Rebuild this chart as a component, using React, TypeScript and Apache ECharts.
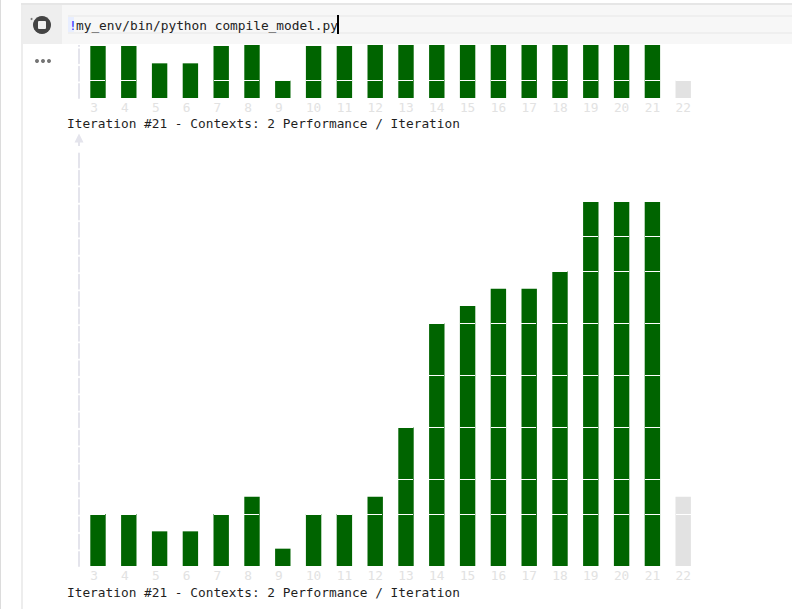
import React, { useEffect, useRef } from "react";
import * as echarts from "echarts";

const categories = ["3","4","5","6","7","8","9","10","11","12","13","14","15","16","17","18","19","20","21","22"];
const upperValues = [3,3,2,2,3,4,1,3,3,4,4,4,4,4,4,4,4,4,4,1];
const lowerValues = [3,3,2,2,3,4,1,3,3,4,8,14,15,16,16,17,21,21,21,4];
const upperDividerLevels = [1];
const upperNoDivider = ["5","6"];
const lowerDividerLevels = [3,5,8,11,14,17,19];
const caption = "Iteration #21 - Contexts: 2 Performance / Iteration";
const commandBang = "!";
const commandText = "my_env/bin/python compile_model.py";

const GREEN = "#006400";
const GRAY = "#e2e2e2";
const LABEL = "#e2e2e2";
const MONO = "'DejaVu Sans Mono', monospace";
const LAST = categories.length - 1;

const barData = (vals: number[]) =>
  vals.map((v, i) => ({ value: v, itemStyle: { color: i === LAST ? GRAY : GREEN } }));

const dividerPairs = (vals: number[], levels: number[], skip: string[]) => {
  const out: number[][] = [];
  vals.forEach((v, i) => {
    if (skip.includes(categories[i])) return;
    levels.forEach((l) => {
      if (l <= v) out.push([i, l]);
    });
  });
  return out;
};

const renderDivider = (_: any, api: any) => {
  const p = api.coord([api.value(0), api.value(1)]);
  const w = api.size([1, 0])[0] * 0.5;
  return {
    type: "rect",
    shape: { x: Math.round(p[0] - w / 2), y: Math.floor(p[1]), width: Math.round(w), height: 1 },
    style: { fill: "#ffffff" },
  };
};

const xAxisFor = (gridIndex: number) => ({
  type: "category",
  gridIndex,
  data: categories,
  axisLine: { show: false },
  axisTick: { show: false },
  axisLabel: {
    interval: 0,
    margin: 3,
    color: LABEL,
    fontFamily: MONO,
    fontSize: 12.8,
    formatter: (v: string) => (v.length < 2 ? `{s|${v}}` : v),
    rich: { s: { padding: [0, 7.7, 0, 0], color: LABEL, fontFamily: MONO, fontSize: 12.8 } },
  },
});

const yAxisFor = (gridIndex: number, max: number) => ({
  type: "value",
  gridIndex,
  min: 0,
  max,
  offset: 3.6,
  axisLabel: { show: false },
  axisTick: { show: false },
  splitLine: { show: false },
  axisLine: {
    show: true,
    symbol: ["none", "triangle"],
    symbolSize: [9, 9],
    lineStyle: { color: "#e4e4ec", width: 2, type: [14, 3.33] },
  },
});

const Z = 100;
const rect = (x: number, y: number, width: number, height: number, fill: string, z = Z) => ({
  type: "rect",
  shape: { x, y, width, height },
  style: { fill },
  z,
  silent: true,
});
const label = (text: string, x: number, y: number, fill: string, fontSize: number) => ({
  type: "text",
  x,
  y,
  z: Z + 2,
  silent: true,
  style: { text, fill, fontFamily: MONO, fontSize, textVerticalAlign: "middle", textAlign: "left" },
});

export default function App() {
  const ref = useRef<HTMLDivElement>(null);
  useEffect(() => {
    document.body.style.margin = "0";
    const chart = echarts.init(ref.current!, undefined, { renderer: "svg" });
    chart.setOption({
      animation: false,
      backgroundColor: "#ffffff",
      grid: [
        { left: 82.6, width: 616, top: 0, height: 98 },
        { left: 82.6, width: 616, top: 138, height: 428 },
      ],
      xAxis: [xAxisFor(0), xAxisFor(1)],
      yAxis: [yAxisFor(0, 5.654), yAxisFor(1, 24.7)],
      series: [
        { type: "bar", xAxisIndex: 0, yAxisIndex: 0, barWidth: 15.4, data: barData(upperValues) },
        { type: "bar", xAxisIndex: 1, yAxisIndex: 1, barWidth: 15.4, data: barData(lowerValues) },
        {
          type: "custom", xAxisIndex: 0, yAxisIndex: 0, z: 5, renderItem: renderDivider,
          data: dividerPairs(upperValues, upperDividerLevels, upperNoDivider),
        },
        {
          type: "custom", xAxisIndex: 1, yAxisIndex: 1, z: 5, renderItem: renderDivider,
          data: dividerPairs(lowerValues, lowerDividerLevels, []),
        },
      ],
      graphic: [
        rect(0, 0, 792, 4, "#ffffff"),
        rect(0, 0, 1, 609, "#dcdcdc"),
        rect(21, 4, 2, 605, "#ededed"),
        rect(21, 3, 771, 2, "#e6e6e6"),
        rect(23, 5, 39, 39, "#eeeeee"),
        rect(62, 5, 730, 39, "#f7f7f7"),
        rect(62, 44, 730, 1, "#ffffff"),
        rect(76, 146, 6, 6, "#ffffff"),
        rect(68, 15, 724, 2, "#efefef", Z + 1),
        rect(68, 32, 724, 2, "#efefef", Z + 1),
        rect(68, 17, 6, 15, "#e8eeff", Z + 1),
        {
          type: "circle", z: Z + 1, silent: true,
          shape: { cx: 42, cy: 25, r: 9 }, style: { fill: "#444444" },
        },
        {
          type: "rect", z: Z + 2, silent: true,
          shape: { x: 38, y: 21, width: 8, height: 8, r: 1 }, style: { fill: "#f1f1f1" },
        },
        {
          type: "circle", z: Z + 1, silent: true,
          shape: { cx: 31.5, cy: 19, r: 1 }, style: { fill: "#777777" },
        },
        ...[37, 43, 49].map((cx) => ({
          type: "circle", z: Z, silent: true,
          shape: { cx, cy: 61, r: 2 }, style: { fill: "#757575" },
        })),
        label(commandBang, 69, 25, "#3030ff", 12.8),
        label(commandText, 76, 25, "#222222", 12.8),
        rect(337, 15, 2, 19, "#000000", Z + 2),
        label(caption, 67, 123, "#1f1f1f", 12.8),
        label(caption, 67, 592, "#1f1f1f", 12.8),
      ],
    });
    return () => chart.dispose();
  }, []);
  return <div ref={ref} style={{ width: 792, height: 609 }} />;
}
